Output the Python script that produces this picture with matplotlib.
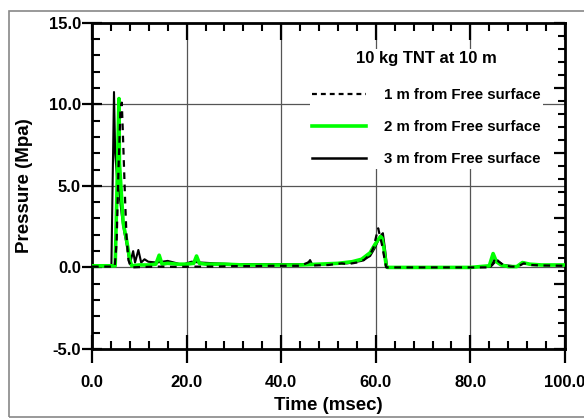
import matplotlib
matplotlib.use("Agg")
import matplotlib.pyplot as plt
from matplotlib.patches import Rectangle
from matplotlib.lines import Line2D
import numpy as np

plt.rcParams['font.family'] = ['Liberation Sans', 'DejaVu Sans']
plt.rcParams['font.weight'] = 'bold'

# ---- data (time in msec, pressure in MPa) ----
t_1m = [0, 4.8, 5.2, 5.6, 6.0, 6.3, 6.6, 7.0, 7.3, 7.7, 8.3, 10, 14, 18, 22, 26, 30, 34, 38, 42, 44,
        46.1, 46.8, 50, 52.8, 54, 56, 57.5, 58.8, 59.5, 60.0, 60.5, 60.9, 61.3, 61.8, 62.2, 62.5, 66, 70,
        75, 80, 83.5, 84.5, 85.3, 86.0, 87.0, 88.5, 90, 91.3, 92.5, 95, 100]
p_1m = [0.05, 0.05, 1.5, 6.0, 9.5, 10.1, 7.6, 4.1, 1.9, 0.45, 0.0, 0.02, 0.05, 0.03, 0.05, 0.05, 0.08,
        0.08, 0.1, 0.1, 0.1, 0.35, 0.12, 0.15, 0.25, 0.2, 0.3, 0.45, 0.8, 1.2, 1.8, 2.4, 1.9, 1.4, 0.6,
        0.0, 0.0, 0.0, 0.0, 0.0, 0.0, 0.0, 0.1, 0.6, 0.35, 0.15, 0.05, 0.05, 0.25, 0.15, 0.12, 0.1]

t_2m = [0, 4.9, 5.3, 5.7, 5.8, 6.3, 6.6, 7.3, 8.0, 8.4, 10, 12, 13.5, 14.2, 14.8, 16, 18, 20, 21.5,
        22.1, 22.7, 24, 28, 32, 36, 40, 44, 48, 52, 55, 57, 58.8, 59.8, 60.5, 61.0, 61.3, 61.7, 62.2,
        62.5, 70, 80, 84.0, 84.8, 85.5, 86.5, 88, 89.8, 91.0, 92.5, 95, 100]
p_2m = [0.1, 0.1, 5.0, 10.35, 6.4, 4.1, 2.7, 1.7, 0.45, 0.1, 0.15, 0.15, 0.2, 0.75, 0.2, 0.25, 0.2,
        0.2, 0.25, 0.7, 0.25, 0.2, 0.2, 0.15, 0.15, 0.15, 0.15, 0.2, 0.25, 0.35, 0.5, 0.9, 1.4, 1.7,
        1.9, 1.8, 1.2, 0.1, 0.0, 0.0, 0.0, 0.1, 0.85, 0.35, 0.15, 0.05, 0.05, 0.3, 0.2, 0.15, 0.15]

t_3m = [0, 4.1, 4.65, 4.9, 5.3, 5.8, 6.3, 6.8, 7.4, 8.0, 8.7, 9.1, 9.8, 10.4, 11.1, 11.9, 13.7, 16.0,
        18.0, 19.0, 21.0, 23.0, 26, 30, 34, 38, 42, 45.5, 46.1, 46.6, 50, 54, 57, 58.8, 59.8, 60.6,
        61.2, 61.5, 62.0, 62.4, 66, 70, 80, 84.3, 85.6, 86.9, 88.5, 89.8, 91.2, 92.5, 95, 100]
p_3m = [0.1, 0.1, 10.75, 7.0, 5.5, 4.5, 3.2, 2.2, 1.3, 0.2, 1.0, 0.3, 1.07, 0.3, 0.5, 0.35, 0.3, 0.4,
        0.25, 0.15, 0.35, 0.3, 0.25, 0.2, 0.2, 0.2, 0.2, 0.2, 0.45, 0.15, 0.2, 0.25, 0.4, 0.7, 1.2,
        1.7, 2.0, 2.1, 1.0, 0.0, 0.0, 0.0, 0.0, 0.05, 0.45, 0.15, 0.1, 0.05, 0.3, 0.2, 0.15, 0.15]

labels = ["1 m from Free surface", "2 m from Free surface", "3 m from Free surface"]
legend_title = "10 kg TNT at 10 m"
x_ticks = [0, 20, 40, 60, 80, 100]
y_ticks = [-5, 0, 5, 10, 15]

# ---- figure ----
W, H = 584, 419
fig = plt.figure(figsize=(W / 100, H / 100), dpi=100)
fig.patch.set_facecolor('white')

L, R, T, B = 92, 565, 22.7, 349
ax = fig.add_axes([L / W, 1 - B / H, (R - L) / W, (B - T) / H])
ax.set_xlim(0, 100)
ax.set_ylim(-5, 15)

# grid
for xv in x_ticks[1:-1]:
    ax.axvline(xv, color='#555555', lw=0.9, zorder=1)
for yv in y_ticks[1:-1]:
    ax.axhline(yv, color='#555555', lw=0.9, zorder=1)

ax.plot(t_3m, p_3m, color='black', lw=1.5, zorder=3)
ax.plot(t_2m, p_2m, color='#00ff00', lw=2.6, zorder=4)
ax.plot(t_1m, p_1m, color='black', lw=1.6, ls=(0, (3, 2.5)), zorder=5)

handles = [Line2D([], [], color='black', lw=1.6, ls=(0, (2.2, 1.8))),
           Line2D([], [], color='#00ff00', lw=2.6),
           Line2D([], [], color='black', lw=1.8)]
leg = ax.legend(handles, labels, title=legend_title, loc='upper right',
                bbox_to_anchor=((543 - L) / (R - L), (B - 49) / (B - T)),
                frameon=True, fancybox=False, framealpha=1, edgecolor='none',
                facecolor='white', borderpad=0.15, handlelength=3.6, handletextpad=1.2,
                labelspacing=1.2, borderaxespad=0, prop={'size': 10.8, 'weight': 'bold'},
                title_fontproperties={'size': 12, 'weight': 'bold'})
leg._legend_box.sep = 16
leg.set_zorder(6)

# spines
for s in ax.spines.values():
    s.set_linewidth(2.0)

ax.set_xticks(x_ticks)
ax.set_xticklabels([f"{v:.1f}" for v in x_ticks])
ax.set_yticks(y_ticks)
ax.set_yticklabels([f"{v:.1f}" for v in y_ticks])
ax.set_xticks(np.arange(0, 101, 4), minor=True)
ax.set_yticks(np.arange(-5, 16, 1), minor=True)
ax.tick_params(axis='x', which='major', direction='inout', length=20, width=1.6, pad=9,
               labelsize=12)
ax.tick_params(axis='x', which='minor', direction='in', length=6, width=1.5)
ax.tick_params(axis='y', which='major', direction='inout', length=14, width=1.6, pad=1,
               labelsize=12)
ax.tick_params(axis='y', which='minor', direction='in', length=6, width=1.5)
for lab in ax.get_xticklabels() + ax.get_yticklabels():
    lab.set_fontweight('bold')

ax.set_xlabel("Time (msec)", fontsize=13.5, fontweight='bold', labelpad=5)
ax.set_ylabel("Pressure (Mpa)", fontsize=13.5, fontweight='bold', labelpad=11)

# top axis ticks
axt = ax.twiny()
axt.set_xlim(0, 100)
axt.set_xticks(x_ticks)
axt.set_xticks(np.arange(0, 101, 4), minor=True)
axt.tick_params(axis='x', which='major', direction='in', length=12, width=1.6, labeltop=False)
axt.tick_params(axis='x', which='minor', direction='in', length=6, width=1.5)
for s in axt.spines.values():
    s.set_visible(False)

# right axis ticks
axr = ax.twinx()
axr.set_ylim(-5, 15)
axr.set_yticks(np.arange(-5, 15.01, 4))
axr.set_yticks(np.arange(-5, 15.01, 0.8), minor=True)
axr.tick_params(axis='y', which='major', direction='in', length=8, width=1.6, labelright=False)
axr.tick_params(axis='y', which='minor', direction='in', length=5, width=1.5)
for s in axr.spines.values():
    s.set_visible(False)

# outer frame
fig.add_artist(Rectangle((9 / W, 1 - 417 / H), (W + 10) / W, (417 - 11) / H,
                         transform=fig.transFigure, fill=False, edgecolor='#888888',
                         lw=1.2, zorder=0))

fig.savefig("out.png", dpi=100)
